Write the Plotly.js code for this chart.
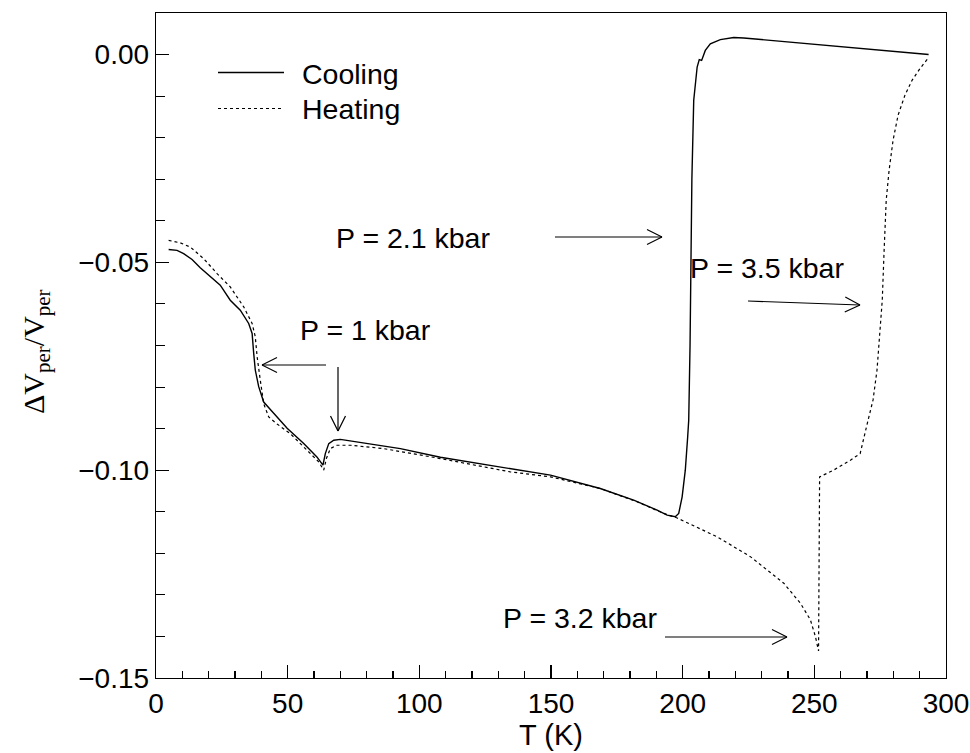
<!DOCTYPE html>
<html>
<head>
<meta charset="utf-8">
<script src="https://cdn.plot.ly/plotly-3.0.1.min.js"></script>
<style>
  html, body { margin: 0; padding: 0; background: #fff; }
  #chart { width: 970px; height: 753px; }
</style>
</head>
<body>
<div id="chart"></div>
<script>
// Relative volume change of the sample, cooling and heating runs
const coolT = [4.8, 8.0, 10.5, 13.7, 16.8, 20.6, 24.4, 28.2, 32.0, 35.2, 36.5, 37.1, 37.7, 39.0, 40.9,
  44.7, 49.8, 56.1, 61.1, 63.4, 64.3, 65.6, 67.5, 70.0, 80.1, 92.8, 108, 130.9, 149.8, 168.7, 181.4,
  190.3, 194.1, 197.2, 198.5, 199.8, 201.0, 201.9, 202.3, 202.8, 203.2, 203.5, 204.2, 205.5, 206.3,
  207.2, 208.6, 210.5, 214.3, 219.4, 223.2, 293.4];
const coolV = [-0.0469, -0.0471, -0.0479, -0.0493, -0.0513, -0.0535, -0.0555, -0.0591, -0.0615, -0.0647,
  -0.0671, -0.0719, -0.0759, -0.0799, -0.0836, -0.0863, -0.0899, -0.0936, -0.0968, -0.0988, -0.0960,
  -0.0936, -0.0928, -0.0926, -0.0936, -0.0948, -0.0969, -0.0992, -0.1012, -0.1044, -0.1072, -0.1096,
  -0.1108, -0.1112, -0.1104, -0.1064, -0.1000, -0.0920, -0.0880, -0.0700, -0.0500, -0.0300, -0.0110,
  -0.0030, -0.0012, -0.0014, 0.0010, 0.0026, 0.0036, 0.0041, 0.0040, 0.0000];

const heatT = [4.8, 9.2, 13.0, 18.1, 23.2, 28.2, 33.3, 36.5, 37.7, 38.4, 39.6, 40.9, 42.8, 46.0, 51.0,
  57.3, 61.8, 63.7, 64.7, 66.2, 68.7, 73.8, 86.4, 108, 134.5, 149.8, 168.7, 182.7, 192.8, 197.9, 213,
  225.7, 238.4, 244.7, 248.5, 250.4, 251.6, 252.0, 257.3, 263.7, 267.4, 270.4, 272.3, 273.8, 275.0,
  275.8, 276.5, 277.3, 278.4, 279.9, 281.8, 284.4, 287.1, 290.2, 293.2];
const heatV = [-0.0447, -0.0453, -0.0463, -0.0491, -0.0527, -0.0559, -0.0607, -0.0647, -0.0679, -0.0727,
  -0.0783, -0.0840, -0.0872, -0.0889, -0.0912, -0.0952, -0.0980, -0.1000, -0.0972, -0.0948, -0.0940,
  -0.0940, -0.0948, -0.0972, -0.1004, -0.1016, -0.1044, -0.1076, -0.1104, -0.1115, -0.1160, -0.1208,
  -0.1272, -0.1320, -0.1360, -0.1400, -0.1435, -0.1016, -0.1000, -0.0976, -0.0960, -0.0880, -0.0831,
  -0.0759, -0.0663, -0.0591, -0.0471, -0.0350, -0.0278, -0.0206, -0.0146, -0.0098, -0.0062, -0.0033,
  -0.0009];

const seriesNames = ['Cooling', 'Heating'];
const pressureLabels = ['P = 2.1 kbar', 'P = 3.5 kbar', 'P = 1 kbar', 'P = 3.2 kbar'];

// Page geometry (pixels)
const W = 970, H = 753;
const M = { l: 156, r: 24, t: 13, b: 75 };
const PW = W - M.l - M.r, PH = H - M.t - M.b;
const px = x => (x - M.l) / PW;          // pixel -> paper x
const py = y => (H - M.b - y) / PH;      // pixel -> paper y

const SANS = 'Liberation Sans, Arial, Helvetica, sans-serif';
const SERIF = 'Liberation Serif, Times New Roman, serif';

const shapes = [];
const annotations = [];

// thin arrow with an open ">" head, given in pixel coordinates
function arrow(x0, y0, x1, y1) {
  const line = { type: 'line', xref: 'paper', yref: 'paper', line: { color: '#000', width: 1.2 } };
  shapes.push(Object.assign({ x0: px(x0), y0: py(y0), x1: px(x1), y1: py(y1) }, line));
  const dx = x1 - x0, dy = y1 - y0, len = Math.hypot(dx, dy);
  const ux = dx / len, uy = dy / len;
  const hl = 15, hw = 7.5;
  [1, -1].forEach(s => {
    const bx = x1 - ux * hl + s * (-uy) * hw;
    const by = y1 - uy * hl + s * ux * hw;
    shapes.push(Object.assign({ x0: px(x1), y0: py(y1), x1: px(bx), y1: py(by) }, line));
  });
}

function label(text, x, y, size, anchor) {
  annotations.push({
    text: text, xref: 'paper', yref: 'paper', x: px(x), y: py(y),
    xanchor: anchor || 'center', yanchor: 'middle', showarrow: false,
    font: { family: SANS, size: size, color: '#000' }
  });
}

// pressure annotations
label(pressureLabels[0], 413, 238, 28.5);
arrow(555, 237, 662, 237);
label(pressureLabels[1], 767, 268, 28.5);
arrow(748, 301, 860, 305);
label(pressureLabels[2], 365, 330, 28.5);
arrow(326, 365, 262, 365);
arrow(338, 367, 338, 431);
label(pressureLabels[3], 580, 618, 28.5);
arrow(665, 637, 787, 637);

// legend drawn inside the frame
shapes.push({ type: 'line', xref: 'paper', yref: 'paper', x0: px(218), x1: px(284), y0: py(72.5), y1: py(72.5),
  line: { color: '#000', width: 1.4 } });
shapes.push({ type: 'line', xref: 'paper', yref: 'paper', x0: px(218), x1: px(284), y0: py(108.5), y1: py(108.5),
  line: { color: '#000', width: 1.2, dash: '3px,3px' } });
label(seriesNames[0], 300, 74, 28.5, 'left');
label(seriesNames[1], 300, 109, 28.5, 'left');

// y-axis title
annotations.push({
  text: '\u0394V<sub>per</sub>/V<sub>per</sub>', xref: 'paper', yref: 'paper',
  x: px(36), y: py(352), xanchor: 'center', yanchor: 'middle', textangle: -90, showarrow: false,
  font: { family: SERIF, size: 30, color: '#000' }
});

const traces = [
  { x: coolT, y: coolV, name: seriesNames[0], type: 'scatter', mode: 'lines',
    line: { color: '#000', width: 1.4 } },
  { x: heatT, y: heatV, name: seriesNames[1], type: 'scatter', mode: 'lines',
    line: { color: '#000', width: 1.2, dash: '3px,3px' } }
];

const axisCommon = {
  showline: true, mirror: true, linecolor: '#000', linewidth: 1.3,
  ticks: 'inside', tickcolor: '#000', tickwidth: 1.2, ticklen: 13,
  showgrid: false, zeroline: false,
  tickfont: { family: SANS, size: 28, color: '#000' }
};

const layout = {
  width: W, height: H,
  margin: M,
  paper_bgcolor: '#fff', plot_bgcolor: '#fff',
  showlegend: false,
  xaxis: Object.assign({}, axisCommon, {
    range: [0, 300], tick0: 0, dtick: 50,
    minor: { ticks: 'inside', ticklen: 7, dtick: 10, tickcolor: '#000', tickwidth: 1.1, showgrid: false },
    title: { text: 'T (K)', font: { family: SANS, size: 29, color: '#000' }, standoff: 4 }
  }),
  yaxis: Object.assign({}, axisCommon, {
    range: [-0.15, 0.01], tick0: 0, dtick: 0.05, tickformat: '.2f',
    minor: { ticks: 'inside', ticklen: 9, dtick: 0.01, tickcolor: '#000', tickwidth: 1.1, showgrid: false }
  }),
  shapes: shapes,
  annotations: annotations
};

Plotly.newPlot('chart', traces, layout, { staticPlot: true, displayModeBar: false });
</script>
</body>
</html>
